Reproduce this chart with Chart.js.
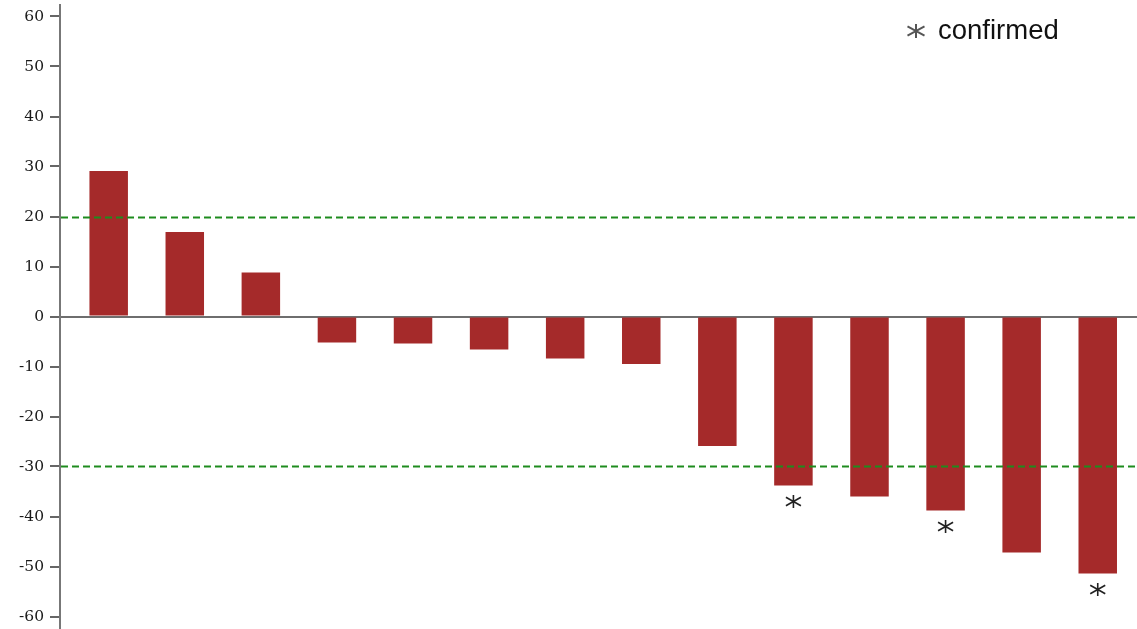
<!DOCTYPE html>
<html>
<head>
<meta charset="utf-8">
<script src="https://cdn.jsdelivr.net/npm/chart.js@4.4.1/dist/chart.umd.min.js"></script>
<style>
  html, body { margin: 0; padding: 0; background: #ffffff; }
  #wrap { width: 1137px; height: 629px; position: relative; }
</style>
</head>
<body>
<div id="wrap"><canvas id="c"></canvas></div>
<script>
// Categories (unlabelled on the axis) and their values
const categories = ['1', '2', '3', '4', '5', '6', '7', '8', '9', '10', '11', '12', '13', '14'];
const values = [29.1, 16.9, 8.8, -5.2, -5.4, -6.6, -8.4, -9.5, -25.9, -33.8, -36.0, -38.8, -47.2, -51.4];
// Which categories carry the "confirmed" mark
const confirmed = [false, false, false, false, false, false, false, false, false, true, false, true, false, true];
// Reference thresholds drawn as dashed lines
const thresholds = [20, -30];
// Y-axis tick labels
const yTicks = [-60, -50, -40, -30, -20, -10, 0, 10, 20, 30, 40, 50, 60];

const BAR_COLOR = '#a52a2a';

function drawAsterisk(ctx, x, y, w, h, color, lw) {
  ctx.save();
  ctx.strokeStyle = color;
  ctx.lineWidth = lw;
  ctx.lineCap = 'butt';
  ctx.beginPath();
  ctx.moveTo(x, y - h / 2); ctx.lineTo(x, y + h / 2);
  ctx.moveTo(x - w / 2, y - h * 0.33); ctx.lineTo(x + w / 2, y + h * 0.33);
  ctx.moveTo(x - w / 2, y + h * 0.33); ctx.lineTo(x + w / 2, y - h * 0.33);
  ctx.stroke();
  ctx.restore();
}

const overlay = {
  id: 'overlay',
  afterDatasetsDraw(chart) {
    const { ctx, chartArea, scales } = chart;
    // dashed threshold lines
    ctx.save();
    ctx.strokeStyle = '#1e8c1e';
    ctx.lineWidth = 2;
    ctx.setLineDash([7, 4]);
    thresholds.forEach(t => {
      const y = Math.round(scales.y.getPixelForValue(t)) + 0.5;
      ctx.beginPath();
      ctx.moveTo(chartArea.left + 1, y);
      ctx.lineTo(chartArea.right, y);
      ctx.stroke();
    });
    ctx.restore();
    // asterisks below confirmed bars
    const meta = chart.getDatasetMeta(0);
    confirmed.forEach((c, i) => {
      if (!c) return;
      const bar = meta.data[i];
      drawAsterisk(ctx, bar.x, bar.y + 16, 15, 13, '#222222', 1.6);
    });
    // legend entry
    ctx.save();
    ctx.filter = 'blur(0.6px)';
    drawAsterisk(ctx, 916, 31, 17, 14, '#555555', 2);
    ctx.restore();
    ctx.save();
    ctx.fillStyle = '#111111';
    ctx.font = '27.5px "Liberation Sans", Arial, sans-serif';
    ctx.textBaseline = 'alphabetic';
    ctx.textAlign = 'left';
    ctx.fillText('confirmed', 938, 39);
    ctx.restore();
  }
};

new Chart(document.getElementById('c'), {
  type: 'bar',
  data: {
    labels: categories,
    datasets: [{
      label: 'value',
      data: values.map((v, i) => ({ x: i, y: v })),
      backgroundColor: BAR_COLOR,
      borderWidth: 0,
      categoryPercentage: 1.0,
      barPercentage: 0.506
    }]
  },
  options: {
    responsive: true,
    maintainAspectRatio: false,
    animation: false,
    layout: { padding: { top: 5, right: 0, bottom: 0, left: 0 } },
    plugins: {
      legend: { display: false },
      tooltip: { enabled: false }
    },
    scales: {
      x: {
        type: 'linear',
        offset: false,
        bounds: 'ticks',
        min: -0.64,
        max: 13.516,
        display: false,
        grid: { display: false }
      },
      y: {
        min: -62.5,
        max: 62.3,
        z: 1,
        afterBuildTicks(scale) {
          scale.ticks = yTicks.map(v => ({ value: v }));
        },
        afterFit(scale) {
          scale.width = 60;
          scale.paddingTop = 0;
          scale.paddingBottom = 0;
        },
        border: { display: true, color: '#777777', width: 2 },
        grid: {
          drawOnChartArea: true,
          drawTicks: true,
          tickLength: 10,
          tickWidth: 1.5,
          tickColor: '#333333',
          lineWidth: 2,
          color: ctx => (ctx.tick && ctx.tick.value === 0 ? '#6e6e6e' : 'rgba(0,0,0,0)')
        },
        ticks: {
          padding: 6,
          color: '#1a1a1a',
          font: { family: '"DejaVu Serif", "Liberation Serif", serif', size: 15.5 },
          callback: v => String(v)
        }
      }
    }
  },
  plugins: [overlay]
});
</script>
</body>
</html>
